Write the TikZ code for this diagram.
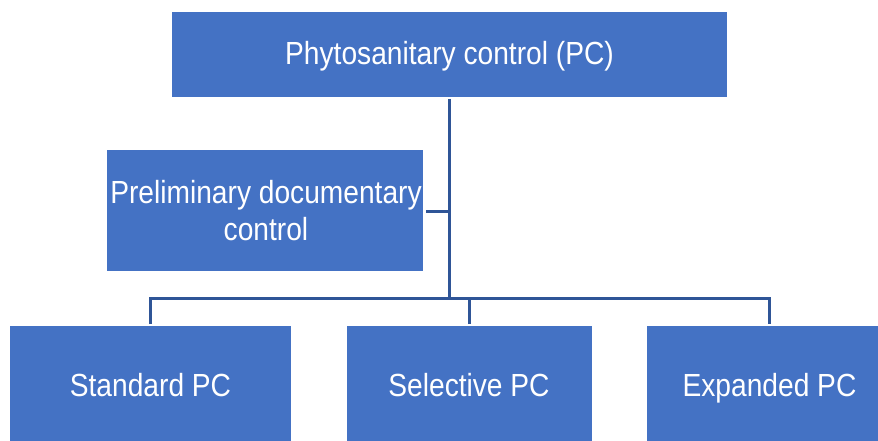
\documentclass[tikz,border=0pt]{standalone}
\usepackage{fontspec}
\setmainfont{Liberation Sans}[FakeStretch=0.88]
\definecolor{boxblue}{HTML}{4472C4}
\definecolor{lineblue}{HTML}{2F5597}
\begin{document}
\begin{tikzpicture}[x=1pt,y=-1pt,
  box/.style={text=white,font=\fontsize{32}{37}\selectfont,align=center,inner sep=0pt,anchor=base},
  link/.style={draw=lineblue,line width=3pt}]
\useasboundingbox (0,0) rectangle (878,441);
\begin{scope}
\clip (0,0) rectangle (878,441);
\fill[boxblue] (172,12) rectangle (727,97);
\fill[boxblue] (107,150) rectangle (423,271);
\fill[boxblue] (10,326) rectangle (291,460);
\fill[boxblue] (347,326) rectangle (592,460);
\fill[boxblue] (647,326) rectangle (900,460);
\end{scope}
\node[box] (top) at (449.5,64.3) {Phytosanitary control (PC)};
\node[box] (pre) at (266,240.3) {Preliminary documentary\\control};
\node[box] (std) at (150.5,396.5) {Standard PC};
\node[box] (sel) at (469,396.5) {Selective PC};
\node[box] (exp) at (769.5,396.5) {Expanded PC};
\coordinate (topb) at (449.5,99);
\coordinate (junc) at (449.5,211);
\coordinate (prer) at (426,211);
\coordinate (bus) at (449.5,298);
\coordinate (stdt) at (150,324);
\coordinate (selt) at (469,324);
\coordinate (expt) at (769.5,324);
\draw[link] (topb) -- (bus);
\draw[link] (prer) -- (junc);
\draw[link] (stdt) |- (bus) -| (expt);
\draw[link] (selt) -- (selt |- bus);
\end{tikzpicture}
\end{document}
